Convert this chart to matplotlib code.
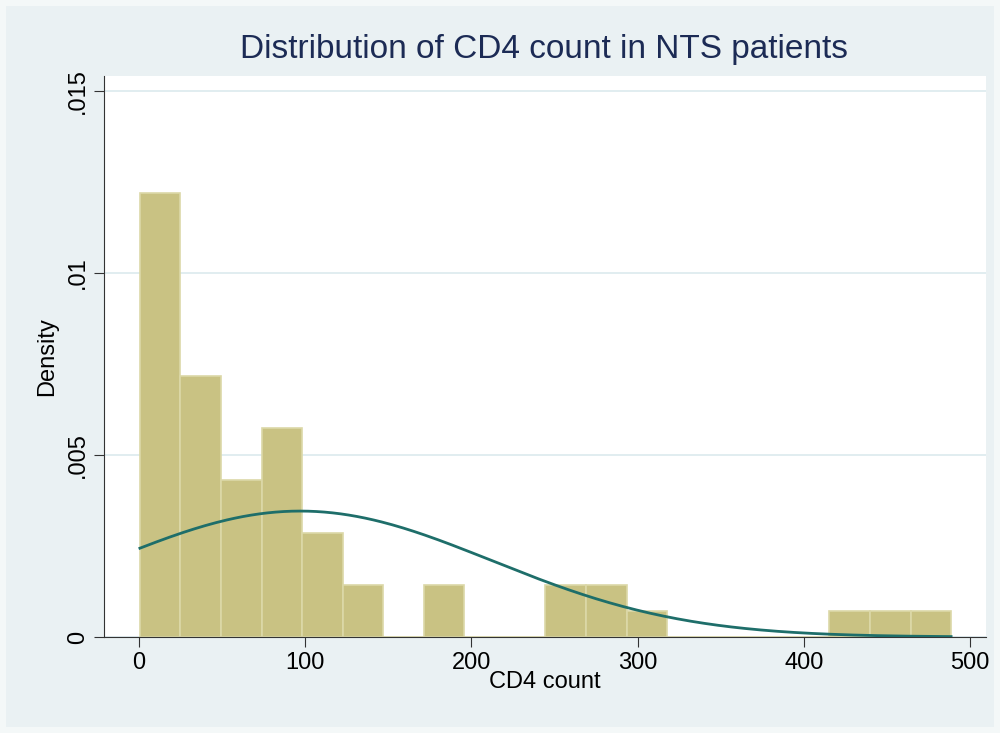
import numpy as np
import matplotlib.pyplot as plt
from matplotlib.patches import Rectangle

plt.rcParams['font.family'] = ['Liberation Sans', 'DejaVu Sans']

# histogram bins (CD4 count), 20 bins
bin_start = 0.6
bin_width = 24.4
densities = [0.01220, 0.00718, 0.00431, 0.00574, 0.00287, 0.00144, 0.0, 0.00144,
             0.0, 0.0, 0.00144, 0.00144, 0.00072, 0.0, 0.0, 0.0, 0.0,
             0.00072, 0.00072, 0.00072]

# fitted normal curve
norm_mean = 97.0
norm_sd = 115.3
x_min, x_max = 0.6, 488.6

edges = bin_start + bin_width * np.arange(len(densities) + 1)

fig = plt.figure(figsize=(10, 7.33), dpi=100)
fig.patch.set_facecolor("#F4F8F8")
fig.patches.append(Rectangle((0.006, 0.008), 0.988, 0.984, transform=fig.transFigure,
                             facecolor="#EAF1F3", edgecolor="none", zorder=-10))

ax = fig.add_axes([0.104, 0.131, 0.882, 0.765])
ax.set_facecolor("white")

ax.bar(edges[:-1], densities, width=bin_width, align="edge",
       color="#C9C283", edgecolor="#DCD8A8", linewidth=1.2, zorder=2)

xs = np.linspace(x_min, x_max, 300)
ys = np.exp(-0.5 * ((xs - norm_mean) / norm_sd) ** 2) / (norm_sd * np.sqrt(2 * np.pi))
ax.plot(xs, ys, color="#1E6E6A", linewidth=2, zorder=3)

ax.set_xlim(-21, 509.6)
ax.set_ylim(0, 0.01541)
ax.set_xticks([0, 100, 200, 300, 400, 500])
ax.set_yticks([0, 0.005, 0.01, 0.015])
ax.set_yticklabels(["0", ".005", ".01", ".015"], rotation=90, va="center")
ax.tick_params(labelsize=17, length=7, color="#333333", pad=4)

ax.grid(axis="y", color="#DCEAEE", linewidth=1.2, zorder=0)
ax.set_axisbelow(True)
for s in ["top", "right"]:
    ax.spines[s].set_visible(False)
for s in ["left", "bottom"]:
    ax.spines[s].set_color("#333333")

ax.set_xlabel("CD4 count", fontsize=17, labelpad=-2)
ax.set_ylabel("Density", fontsize=17, labelpad=6)
fig.text(0.544, 0.932, "Distribution of CD4 count in NTS patients", ha="center",
         va="center", fontsize=24, color="#1C2B55")

fig.savefig("out.png", dpi=100, facecolor=fig.get_facecolor())
